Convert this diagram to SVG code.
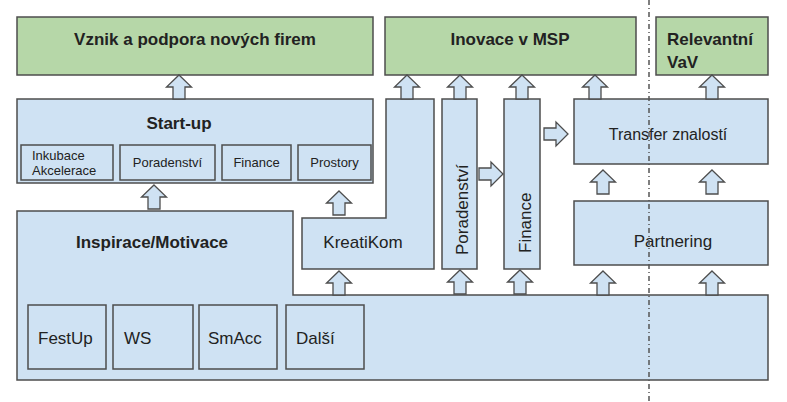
<svg xmlns="http://www.w3.org/2000/svg" xmlns:xlink="http://www.w3.org/1999/xlink" width="787" height="402" viewBox="0 0 787 402">
<style>
.g{fill:#b6d7a8;stroke:#4d4d4d;stroke-width:1.5}
.b{fill:#cfe2f3;stroke:#4d4d4d;stroke-width:1.5}
.t{font-family:"Liberation Sans",Arial,sans-serif;fill:#222}
.bold{font-weight:bold;font-size:17px}
.r17{font-size:17px}
.r16{font-size:16px}
.s13{font-size:13px}
.arr{fill:#cfe2f3;stroke:#4d4d4d;stroke-width:1.3;stroke-linejoin:miter}
</style>
<defs>
<path id="up" d="M0,0 L12.5,12 L6,12 L6,24 L-6,24 L-6,12 L-12.5,12 Z"/>
<path id="right" d="M0,-6 L12,-6 L12,-12 L24,0 L12,12 L12,6 L0,6 Z"/>
</defs>
<rect width="787" height="402" fill="#ffffff"/>

<g id="vznik">
<rect class="g" x="17" y="17" width="356" height="58"/>
<text class="t bold" x="195" y="45" text-anchor="middle">Vznik a podpora nových firem</text>
</g>
<g id="inovace">
<rect class="g" x="385" y="17" width="251" height="58"/>
<text class="t bold" x="510" y="45" text-anchor="middle">Inovace v MSP</text>
</g>
<g id="vav">
<rect class="g" x="656" y="17" width="112" height="58"/>
<text class="t bold" x="667" y="45">Relevantní</text>
<text class="t bold" x="667" y="68">VaV</text>
</g>

<g id="startup">
<rect class="b" x="17" y="99" width="356" height="84"/>
<text class="t bold" x="179" y="129" text-anchor="middle">Start-up</text>
<rect class="b" x="21" y="145" width="92" height="35"/>
<text class="t s13" x="32" y="160">Inkubace</text>
<text class="t s13" x="32" y="175">Akcelerace</text>
<rect class="b" x="120" y="145" width="95" height="35"/>
<text class="t s13" x="167.5" y="167" text-anchor="middle">Poradenství</text>
<rect class="b" x="222" y="145" width="69" height="35"/>
<text class="t s13" x="256.5" y="167" text-anchor="middle">Finance</text>
<rect class="b" x="298" y="145" width="73" height="35"/>
<text class="t s13" x="334.5" y="167" text-anchor="middle">Prostory</text>
</g>

<g id="inspirace">
<polygon class="b" points="17,211 293,211 293,295 768,295 768,380 17,380"/>
<text class="t bold" x="152" y="248" text-anchor="middle">Inspirace/Motivace</text>
<rect class="b" x="28" y="305" width="78" height="64"/>
<text class="t r17" x="38" y="344">FestUp</text>
<rect class="b" x="113" y="305" width="80" height="64"/>
<text class="t r17" x="124" y="344">WS</text>
<rect class="b" x="199" y="305" width="78" height="64"/>
<text class="t r17" x="208" y="344">SmAcc</text>
<rect class="b" x="286" y="305" width="78" height="64"/>
<text class="t r17" x="296" y="344">Další</text>
</g>

<g id="kreatikom">
<polygon class="b" points="386,99 434,99 434,269 302,269 302,218 386,218"/>
<text class="t r17" x="363" y="248" text-anchor="middle">KreatiKom</text>
</g>

<g id="poradenstvi">
<rect class="b" x="442" y="99" width="35" height="170"/>
<text class="t r17" transform="translate(467.5,255) rotate(-90)">Poradenství</text>
</g>

<g id="finance">
<rect class="b" x="504" y="99" width="36" height="170"/>
<text class="t r17" transform="translate(530.5,253) rotate(-90)">Finance</text>
</g>

<g id="transfer">
<rect class="b" x="574" y="99" width="194" height="65"/>
<text class="t r16" x="668" y="140" text-anchor="middle">Transfer znalostí</text>
</g>

<g id="partnering">
<rect class="b" x="574" y="201" width="194" height="64"/>
<text class="t r17" x="673" y="247" text-anchor="middle">Partnering</text>
</g>

<g id="connectors">
<use href="#up" xlink:href="#up" class="arr" x="179" y="75"/>
<use href="#up" xlink:href="#up" class="arr" x="407" y="75"/>
<use href="#up" xlink:href="#up" class="arr" x="460" y="75"/>
<use href="#up" xlink:href="#up" class="arr" x="522" y="75"/>
<use href="#up" xlink:href="#up" class="arr" x="595" y="75"/>
<use href="#up" xlink:href="#up" class="arr" x="712" y="75"/>
<use href="#up" xlink:href="#up" class="arr" x="154" y="185"/>
<use href="#up" xlink:href="#up" class="arr" x="339" y="191"/>
<use href="#up" xlink:href="#up" class="arr" x="339" y="271"/>
<use href="#up" xlink:href="#up" class="arr" x="460" y="270"/>
<use href="#up" xlink:href="#up" class="arr" x="520" y="270"/>
<use href="#up" xlink:href="#up" class="arr" x="603" y="170"/>
<use href="#up" xlink:href="#up" class="arr" x="712" y="170"/>
<use href="#up" xlink:href="#up" class="arr" x="603" y="271"/>
<use href="#up" xlink:href="#up" class="arr" x="712" y="271"/>
<use href="#right" xlink:href="#right" class="arr" x="479" y="174"/>
<use href="#right" xlink:href="#right" class="arr" x="544" y="134"/>
</g>

<line x1="649" y1="0" x2="649" y2="402" stroke="#555" stroke-width="1.5" stroke-dasharray="5 3 1 3"/>
</svg>
